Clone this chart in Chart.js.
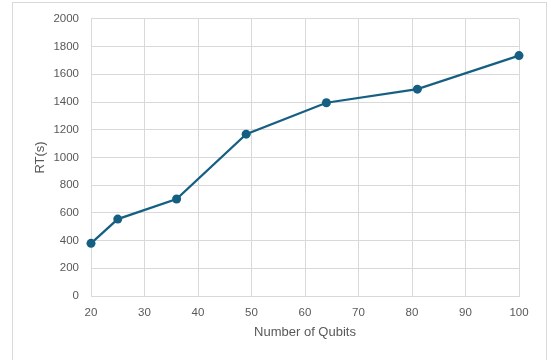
<!DOCTYPE html>
<html>
<head>
<meta charset="utf-8">
<script src="https://cdn.jsdelivr.net/npm/chart.js@4/dist/chart.umd.min.js"></script>
<style>
    html, body { margin: 0; padding: 0; background: #fff; overflow: hidden; }
    .frame { position: absolute; left: 12px; top: 2px; width: 533px; height: 370px; border: 1px solid #d9d9d9; }
    .graph { position: absolute; left: 0; top: 0; width: 551px; height: 360px; }
</style>
</head>
<body>
<div class="frame"></div>
<div class="graph"><canvas id="chart" width="551" height="360"></canvas></div>
<script>
const qubits = [20, 25, 36, 49, 64, 81, 100];
const runtime = [380, 555, 700, 1168, 1395, 1493, 1735];
const xTitle = 'Number of Qubits';
const yTitle = 'RT(s)';

const lineColor = '#156082';
const gridColor = '#d9d9d9';
const textColor = '#595959';
const font = {family: "'Liberation Sans', Arial, sans-serif", size: 11.5};
const titleFont = {family: "'Liberation Sans', Arial, sans-serif", size: 13};

new Chart(document.getElementById('chart'), {
    type: 'line',
    data: {
        datasets: [{
            data: qubits.map((q, i) => ({x: q, y: runtime[i]})),
            borderColor: lineColor,
            backgroundColor: lineColor,
            borderWidth: 2.25,
            pointRadius: 4.5,
            pointBorderWidth: 0,
            fill: false,
            tension: 0,
            clip: false
        }]
    },
    options: {
        responsive: false,
        animation: false,
        layout: {padding: {left: 29, top: 18, right: 32, bottom: 16}},
        plugins: {
            legend: {display: false},
            tooltip: {enabled: false}
        },
        scales: {
            x: {
                type: 'linear',
                min: 20,
                max: 100,
                ticks: {stepSize: 10, color: textColor, font, padding: 10},
                grid: {color: gridColor, drawTicks: false},
                border: {color: gridColor},
                title: {display: true, text: xTitle, color: textColor, font: titleFont, padding: {top: 4, bottom: 4}},
                afterFit: scale => { scale.height = 48; }
            },
            y: {
                min: 0,
                max: 2000,
                ticks: {stepSize: 200, color: textColor, font, padding: 12, callback: v => String(v)},
                grid: {color: gridColor, drawTicks: false},
                border: {color: gridColor},
                title: {display: true, text: yTitle, color: textColor, font: titleFont, padding: {top: 4, bottom: 4}},
                afterFit: scale => { scale.width = 62; }
            }
        }
    }
});
</script>
</body>
</html>
